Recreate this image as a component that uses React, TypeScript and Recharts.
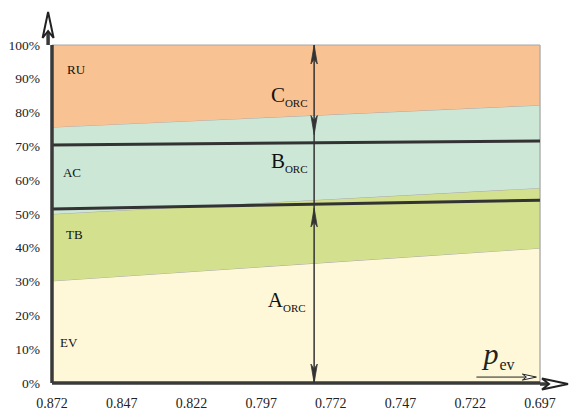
import React from "react";
import {
  ComposedChart,
  Area,
  Line,
  XAxis,
  YAxis,
  ReferenceLine,
  ReferenceDot,
} from "recharts";

// Data
const pev = [0.872, 0.697];
const evShare = [30.2, 39.9];
const tbShare = [19.8, 17.8];
const acShare = [25.7, 24.5];
const ruShare = [24.3, 17.8];
const lowerBound = [51.5, 54.1];
const upperBound = [70.4, 71.6];
const xTicks = [0.872, 0.847, 0.822, 0.797, 0.772, 0.747, 0.722, 0.697];
const yTicks = [0, 10, 20, 30, 40, 50, 60, 70, 80, 90, 100];

const regionLabels = [
  { name: "RU", x: 0.8666, y: 92.4 },
  { name: "AC", x: 0.8681, y: 61.7 },
  { name: "TB", x: 0.867, y: 43.4 },
  { name: "EV", x: 0.8691, y: 11.4 },
];
const orcLabels = [
  { main: "C", x: 0.7935, y: 83.1 },
  { main: "B", x: 0.7935, y: 63.6 },
  { main: "A", x: 0.7946, y: 22.5 },
];
const orcX = 0.778;

const data = pev.map((p, i) => ({
  p,
  EV: evShare[i],
  TB: tbShare[i],
  AC: acShare[i],
  RU: ruShare[i],
  low: lowerBound[i],
  up: upperBound[i],
}));

const FONT = "Liberation Serif";
const DARK = "#333";

const XTick = (props: any) => {
  const { x, y, payload } = props;
  return (
    <text x={x} y={y + 17} textAnchor="middle" fontFamily={FONT} fontSize={14} fill="#222">
      {Number(payload.value).toFixed(3)}
    </text>
  );
};

const YTick = (props: any) => {
  const { x, y, payload } = props;
  return (
    <text x={x} y={y + 4.5} textAnchor="end" fontFamily={FONT} fontSize={13.5} fill="#222">
      {`${payload.value}%`}
    </text>
  );
};

const spear = (dir: "up" | "down") => (props: any) => {
  const { cx, cy } = props;
  const s = dir === "up" ? 1 : -1;
  const d = `M${cx},${cy} L${cx - 3.2},${cy + s * 19} L${cx},${cy + s * 14} L${cx + 3.2},${cy + s * 19} Z`;
  return <path d={d} fill={DARK} stroke={DARK} strokeWidth={0.8} />;
};

const yAxisArrow = (props: any) => {
  const { cx, cy } = props;
  const tip = cy - 33;
  return (
    <g>
      <line x1={cx} y1={cy} x2={cx} y2={tip + 16} stroke="#3a3a3a" strokeWidth={3.5} />
      <path
        d={`M${cx},${tip} L${cx - 5.5},${tip + 26} L${cx},${tip + 19} L${cx + 5.5},${tip + 26} Z`}
        fill="#fff"
        stroke="#222"
        strokeWidth={2}
      />
    </g>
  );
};

const xAxisArrow = (props: any) => {
  const { cx, cy } = props;
  const tip = cx + 28;
  return (
    <g>
      <line x1={cx} y1={cy} x2={tip - 14} y2={cy} stroke="#3a3a3a" strokeWidth={3.5} />
      <path
        d={`M${tip},${cy} L${tip - 26},${cy - 5.5} L${tip - 19},${cy} L${tip - 26},${cy + 5.5} Z`}
        fill="#fff"
        stroke="#222"
        strokeWidth={2}
      />
    </g>
  );
};

const textShape = (txt: string) => (props: any) => (
  <text x={props.cx} y={props.cy} fontFamily={FONT} fontSize={13} fill="#111" dominantBaseline="middle">
    {txt}
  </text>
);

const orcShape = (main: string) => (props: any) => (
  <text x={props.cx} y={props.cy} fontFamily={FONT} fill="#111">
    <tspan fontSize={21}>{main}</tspan>
    <tspan fontSize={11} dy={5}>ORC</tspan>
  </text>
);

const pevShape = (props: any) => {
  const { cx, cy } = props;
  return (
    <g>
      <text x={cx} y={cy} fontFamily={FONT} fill="#222">
        <tspan fontSize={30} fontStyle="italic">p</tspan>
        <tspan fontSize={16} dy={6} dx={1}>ev</tspan>
      </text>
      <line x1={cx - 7} y1={cy + 13} x2={cx + 45} y2={cy + 13} stroke="#222" strokeWidth={1} />
      <path
        d={`M${cx + 53},${cy + 13} L${cx + 39},${cy + 10} L${cx + 43},${cy + 13} L${cx + 39},${cy + 16} Z`}
        fill="#fff"
        stroke="#222"
        strokeWidth={1}
      />
    </g>
  );
};

export default function App() {
  return (
    <div style={{ position: "absolute", left: 0, top: 0, background: "#fff" }}>
      <ComposedChart
        width={569}
        height={412}
        data={data}
        margin={{ top: 45, right: 29, bottom: 0, left: 0 }}
      >
        <XAxis
          dataKey="p"
          type="number"
          domain={[0.697, 0.872]}
          reversed
          ticks={xTicks}
          height={29}
          tickLine={false}
          tickSize={0}
          tickMargin={8}
          axisLine={{ stroke: "#3a3a3a", strokeWidth: 3.5 }}
          tick={<XTick />}
          interval={0}
        />
        <YAxis
          type="number"
          domain={[0, 100]}
          ticks={yTicks}
          width={52}
          tickLine={false}
          tickSize={0}
          tickMargin={12}
          axisLine={{ stroke: "#3a3a3a", strokeWidth: 3.5 }}
          tick={<YTick />}
          interval={0}
        />
        <Area type="linear" dataKey="EV" stackId="s" fill="#FEF8D9" fillOpacity={1} stroke="#a8a8a8" strokeWidth={1} isAnimationActive={false} />
        <Area type="linear" dataKey="TB" stackId="s" fill="#D3E08E" fillOpacity={1} stroke="#a8a8a8" strokeWidth={1} isAnimationActive={false} />
        <Area type="linear" dataKey="AC" stackId="s" fill="#CDE7D7" fillOpacity={1} stroke="#a8a8a8" strokeWidth={1} isAnimationActive={false} />
        <Area type="linear" dataKey="RU" stackId="s" fill="#F9C292" fillOpacity={1} stroke="#a8a8a8" strokeWidth={1.2} isAnimationActive={false} />
        <ReferenceLine x={0.697} stroke="#b0b0b0" strokeWidth={1.5} />
        <Line type="linear" dataKey="low" stroke={DARK} strokeWidth={3} dot={false} isAnimationActive={false} />
        <Line type="linear" dataKey="up" stroke={DARK} strokeWidth={3} dot={false} isAnimationActive={false} />
        <ReferenceLine x={orcX} stroke={DARK} strokeWidth={1.5} />
        <ReferenceDot x={orcX} y={100} r={0} ifOverflow="visible" shape={spear("up")} />
        <ReferenceDot x={orcX} y={73.5} r={0} ifOverflow="visible" shape={spear("down")} />
        <ReferenceDot x={orcX} y={51.8} r={0} ifOverflow="visible" shape={spear("up")} />
        <ReferenceDot x={orcX} y={0} r={0} ifOverflow="visible" shape={spear("down")} />
        {regionLabels.map((r) => (
          <ReferenceDot key={r.name} x={r.x} y={r.y} r={0} ifOverflow="visible" shape={textShape(r.name)} />
        ))}
        {orcLabels.map((r) => (
          <ReferenceDot key={r.main} x={r.x} y={r.y} r={0} ifOverflow="visible" shape={orcShape(r.main)} />
        ))}
        <ReferenceDot x={0.8734} y={100} r={0} ifOverflow="visible" shape={yAxisArrow} />
        <ReferenceDot x={0.697} y={-0.3} r={0} ifOverflow="visible" shape={xAxisArrow} />
        <ReferenceDot x={0.7173} y={5.6} r={0} ifOverflow="visible" shape={pevShape} />
      </ComposedChart>
    </div>
  );
}
